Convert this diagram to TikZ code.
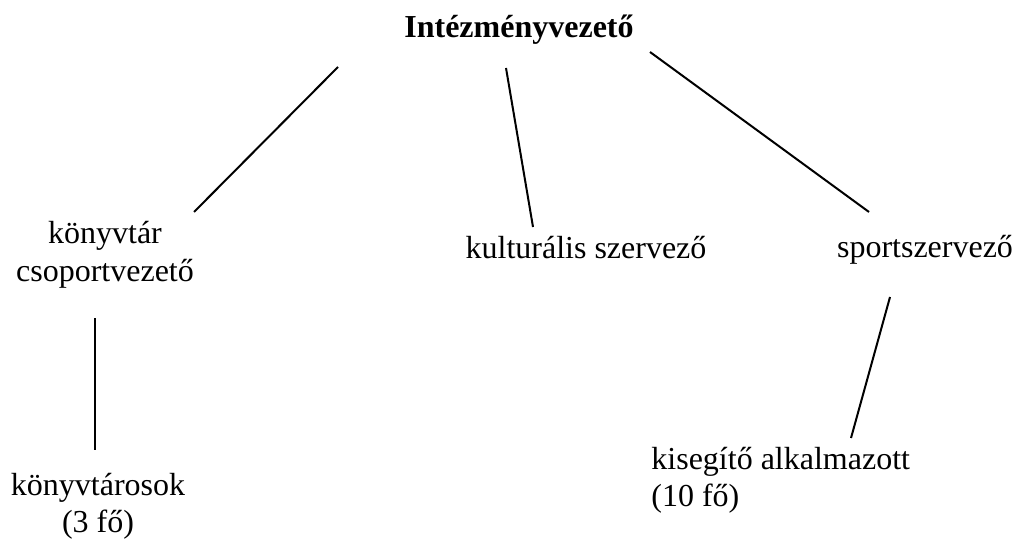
\documentclass[tikz,border=0pt]{standalone}
\usepackage{fontspec}
\setmainfont{Liberation Serif}
\begin{document}
\begin{tikzpicture}[x=0.5pt,y=-0.5pt,font=\fontsize{16}{18.5}\selectfont,
  every node/.style={inner sep=0pt},ln/.style={line width=1pt}]
\useasboundingbox (0,0) rectangle (1015,539);
% szintek
\node[anchor=base,font=\fontsize{16}{18.5}\selectfont\bfseries] (vez) at (519,38) {Intézményvezető};
\node[anchor=base,align=center] (konyvtar) at (105,281) {könyvtár\\csoportvezető};
\node[anchor=base] (kultura) at (586,259) {kulturális szervező};
\node[anchor=base] (sport) at (925,258) {sportszervező};
\node[anchor=base,align=center] (konyvtarosok) at (98,532) {könyvtárosok\\(3 fő)};
\node[anchor=base west,align=left] (kisegito) at (651,506) {kisegítő alkalmazott\\(10 fő)};
% vonalvégek
\coordinate (vezL) at (338,67);
\coordinate (vezM) at (506,68);
\coordinate (vezR) at (650,52);
\coordinate (konyvtarT) at (194,212);
\coordinate (konyvtarB) at (95,318);
\coordinate (kulturaT) at (533,227);
\coordinate (sportT) at (869,212);
\coordinate (sportB) at (890,297);
\coordinate (konyvtarosokT) at (95,450);
\coordinate (kisegitoT) at (851,438);
\draw[ln] (vezL) -- (konyvtarT);
\draw[ln] (vezM) -- (kulturaT);
\draw[ln] (vezR) -- (sportT);
\draw[ln] (konyvtarB) -- (konyvtarosokT);
\draw[ln] (sportB) -- (kisegitoT);
\end{tikzpicture}
\end{document}
